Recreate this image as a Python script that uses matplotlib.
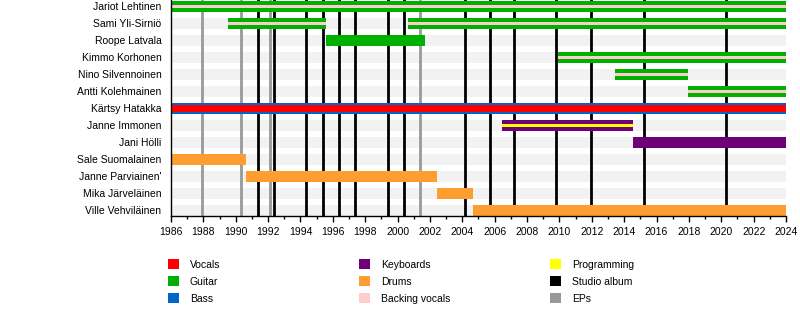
import matplotlib.pyplot as plt
from matplotlib.patches import Patch
from matplotlib.ticker import MultipleLocator

plt.rcParams["font.family"] = ["Liberation Sans", "DejaVu Sans"]

YEAR_START = 1986
YEAR_END = 2024

members = [
    "Jariot Lehtinen", "Sami Yli-Sirniö", "Roope Latvala", "Kimmo Korhonen",
    "Nino Silvennoinen", "Antti Kolehmainen", "Kärtsy Hatakka", "Janne Immonen",
    "Jani Hölli", "Sale Suomalainen", "Janne Parviainen'", "Mika Järveläinen",
    "Ville Vehviläinen",
]

# main role of each stint
main_member = [
    "Jariot Lehtinen", "Sami Yli-Sirniö", "Sami Yli-Sirniö", "Roope Latvala",
    "Kimmo Korhonen", "Nino Silvennoinen", "Antti Kolehmainen", "Kärtsy Hatakka",
    "Janne Immonen", "Jani Hölli", "Sale Suomalainen", "Janne Parviainen'",
    "Mika Järveläinen", "Ville Vehviläinen",
]
main_role = [
    "Guitar", "Guitar", "Guitar", "Guitar", "Guitar", "Guitar", "Guitar", "Bass",
    "Keyboards", "Keyboards", "Drums", "Drums", "Drums", "Drums",
]
main_start = [1986, 1989.55, 2000.67, 1995.58, 2009.94, 2013.44, 2017.93, 1986,
              2006.44, 2014.55, 1986, 1990.64, 2002.42, 2004.64]
main_end = [2024, 1995.58, 2024, 2001.7, 2024, 2017.93, 2024, 2024,
            2014.57, 2024, 1990.64, 2002.42, 2004.64, 2024]

# secondary roles drawn inside the main bar
extra_member = [
    "Jariot Lehtinen", "Sami Yli-Sirniö", "Sami Yli-Sirniö", "Kimmo Korhonen",
    "Nino Silvennoinen", "Antti Kolehmainen", "Kärtsy Hatakka", "Janne Immonen",
]
extra_role = [
    "Backing vocals", "Backing vocals", "Backing vocals", "Backing vocals",
    "Backing vocals", "Backing vocals", "Vocals", "Programming",
]
extra_start = [1986, 1989.55, 2000.67, 2009.94, 2013.44, 2017.93, 1986, 2006.44]
extra_end = [2024, 1995.58, 2024, 2024, 2017.93, 2024, 2024, 2014.57]

studio_albums = [1991.4, 1992.37, 1994.34, 1995.41, 1996.4, 1997.37, 1999.39,
                 2000.4, 2004.17, 2005.72, 2007.22, 2009.79, 2011.94, 2015.25,
                 2020.3]
eps = [1987.9, 1990.33, 1992.12, 2001.39]

colors = {
    "Vocals": "#ff0000",
    "Guitar": "#00b000",
    "Bass": "#0066cc",
    "Keyboards": "#700078",
    "Drums": "#ff9e30",
    "Backing vocals": "#ffcccc",
    "Programming": "#ffff00",
    "Studio album": "#000000",
    "EPs": "#999999",
}
inner_height = {"Vocals": 0.4, "Backing vocals": 0.2, "Programming": 0.2}
legend_cols = [
    ["Vocals", "Guitar", "Bass"],
    ["Keyboards", "Drums", "Backing vocals"],
    ["Programming", "Studio album", "EPs"],
]

fig = plt.figure(figsize=(8, 3.26), dpi=100)
ax = fig.add_axes([171 / 800, 1 - 216 / 326, 615 / 800, 216 / 326])

rows = list(range(len(members)))
ax.barh(rows, YEAR_END - YEAR_START, left=YEAR_START, height=0.68,
        color="#f2f2f2", zorder=0)

for x in studio_albums:
    ax.axvline(x, color=colors["Studio album"], lw=2.0, zorder=1)
for x in eps:
    ax.axvline(x, color=colors["EPs"], lw=2.0, zorder=1)

y_main = [members.index(m) for m in main_member]
ax.barh(y_main, [e - s for s, e in zip(main_start, main_end)], left=main_start,
        height=0.68, color=[colors[r] for r in main_role], zorder=2)

y_extra = [members.index(m) for m in extra_member]
ax.barh(y_extra, [e - s for s, e in zip(extra_start, extra_end)], left=extra_start,
        height=[inner_height[r] for r in extra_role],
        color=[colors[r] for r in extra_role], zorder=3)

ax.set_xlim(YEAR_START, YEAR_END)
ax.set_ylim(len(members) - 1 + 0.324, -0.382)
ax.set_yticks(rows)
ax.set_yticklabels(members, fontsize=7.5)
ax.tick_params(axis="y", length=0, pad=7)
ax.xaxis.set_major_locator(MultipleLocator(2))
ax.xaxis.set_minor_locator(MultipleLocator(1))
ax.tick_params(axis="x", which="major", length=4, width=1, labelsize=7.5, pad=4)
ax.tick_params(axis="x", which="minor", length=2.5, width=1)
for side in ["top", "right"]:
    ax.spines[side].set_visible(False)
for side in ["left", "bottom"]:
    ax.spines[side].set_linewidth(1.0)
    ax.spines[side].set_zorder(4)

col_x = [168 / 800, 359 / 800, 550 / 800]
for cx, labels in zip(col_x, legend_cols):
    handles = [Patch(facecolor=colors[l], edgecolor="none", label=l) for l in labels]
    fig.legend(handles=handles, loc="upper left", bbox_to_anchor=(cx, 1 - 259 / 326),
               frameon=False, fontsize=7.5, handlelength=1.1, handleheight=1.1,
               handletextpad=1.0, labelspacing=0.62, borderpad=0, borderaxespad=0)

fig.savefig("out.png", dpi=100)
